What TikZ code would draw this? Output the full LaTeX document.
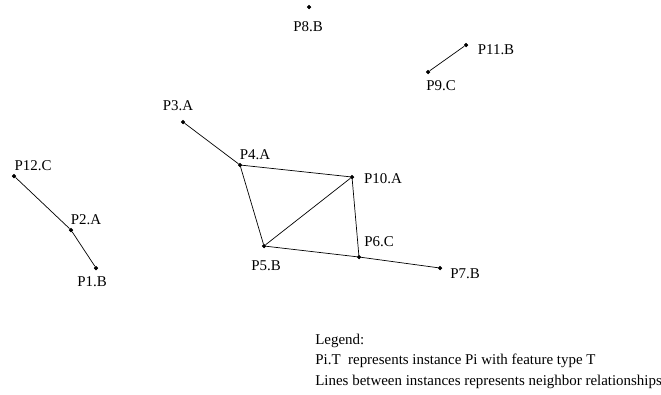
\documentclass[tikz,border=0pt]{standalone}
\usepackage{fontspec}
\setmainfont{Liberation Serif}

\begin{document}
\begin{tikzpicture}[x=1bp, y=-1bp, line width=0.7bp,
    pt/.style={draw,fill,circle,inner sep=0pt,minimum size=3.5bp},
    lbl/.style={inner sep=0pt,font=\fontsize{15}{17}\selectfont},
    leg/.style={inner sep=0pt,anchor=west,font=\fontsize{15}{17}\selectfont}]
		\useasboundingbox (0,0) rectangle (661,394);

		% instances
		\node[pt] (12) at (14,176) {};
		\node[pt] (2) at (71,230) {};
		\node[pt] (1) at (96,268) {};
		\node[pt] (3) at (183,122) {};
		\node[pt] (4) at (240,165) {};
		\node[pt] (10) at (352,177) {};
		\node[pt] (5) at (264,246) {};
		\node[pt] (6) at (359,257) {};
		\node[pt] (7) at (440,268) {};
		\node[pt] (8) at (309,7) {};
		\node[pt] (9) at (428,72) {};
		\node[pt] (11) at (466,45) {};

		% labels
		\node[lbl] (l12) at (33,166) {P12.C};
		\node[lbl] (l2) at (86,220) {P2.A};
		\node[lbl] (l1) at (92,282) {P1.B};
		\node[lbl] (l3) at (178,106) {P3.A};
		\node[lbl] (l4) at (255,155) {P4.A};
		\node[lbl] (l10) at (383,179) {P10.A};
		\node[lbl] (l5) at (266,266) {P5.B};
		\node[lbl] (l6) at (379,242) {P6.C};
		\node[lbl] (l7) at (465,274) {P7.B};
		\node[lbl] (l8) at (308,27) {P8.B};
		\node[lbl] (l9) at (441,86) {P9.C};
		\node[lbl] (l11) at (496,50) {P11.B};

		% neighbor relationships
		\draw (12) -- (2);
		\draw (2) -- (1);
		\draw (3) -- (4);
		\draw (4) -- (10);
		\draw (4) -- (5);
		\draw (5) -- (10);
		\draw (10) -- (6);
		\draw (5) -- (6);
		\draw (6) -- (7);
		\draw (9) -- (11);

		% legend
		\node[leg] (leg1) at (315,341) {Legend:};
		\node[leg] (leg2) at (315,361) {Pi.T\ \ represents instance Pi with feature type T};
		\node[leg] (leg3) at (315,382) {Lines between instances represents neighbor relationships};
	\end{tikzpicture}
\end{document}
